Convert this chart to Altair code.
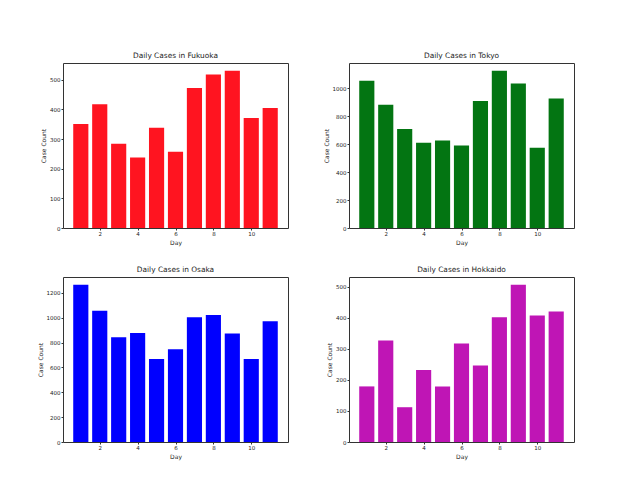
import altair as alt
import pandas as pd

days = list(range(1, 12))
cities = ["Fukuoka", "Tokyo", "Osaka", "Hokkaido"]
fukuoka = [351, 417, 284, 238, 338, 257, 472, 518, 530, 371, 405]
tokyo = [1054, 882, 709, 610, 626, 591, 910, 1125, 1035, 574, 927]
osaka = [1264, 1056, 843, 877, 667, 747, 1003, 1021, 872, 667, 971]
hokkaido = [179, 327, 112, 232, 179, 317, 246, 402, 506, 407, 420]
series = [fukuoka, tokyo, osaka, hokkaido]
colors = ["#ff1420", "#037512", "#0000ff", "#bf15b5"]
x_ticks = [2, 4, 6, 8, 10]
y_ticks = [
    [0, 100, 200, 300, 400, 500],
    [0, 200, 400, 600, 800, 1000],
    [0, 200, 400, 600, 800, 1000, 1200],
    [0, 100, 200, 300, 400, 500],
]

FONT = "DejaVu Sans"
TXT = "#222222"


def panel(name, values, color, ticks):
    df = pd.DataFrame({"day": days, "cases": values})
    ymax = max(values) * 1.05
    return (
        alt.Chart(
            df,
            title=alt.Title(
                f"Daily Cases in {name}", fontSize=7.4, font=FONT,
                fontWeight="normal", color=TXT, offset=4,
            ),
        )
        .mark_bar(color=color)
        .transform_calculate(x0="datum.day - 0.4", x1="datum.day + 0.4")
        .encode(
            x=alt.X(
                "x0:Q",
                scale=alt.Scale(domain=[0.06, 11.94], nice=False, zero=False),
                axis=alt.Axis(values=x_ticks, title="Day", format="d"),
            ),
            x2="x1:Q",
            y=alt.Y(
                "cases:Q",
                scale=alt.Scale(domain=[0, ymax], nice=False),
                axis=alt.Axis(values=ticks, title="Case Count", format="d"),
            ),
            y2=alt.datum(0),
        )
        .properties(width=225, height=165)
    )


panels = [panel(c, s, col, t) for c, s, col, t in zip(cities, series, colors, y_ticks)]

chart = (
    alt.concat(*panels, columns=2, spacing={"row": 19, "column": 33})
    .properties(
        padding={"left": 28, "top": 43, "right": 5, "bottom": 5},
        background="white",
    )
    .configure_view(stroke="#333333", strokeWidth=1)
    .configure_axis(
        grid=False,
        domain=False,
        tickSize=2,
        tickColor="#333333",
        labelFont=FONT,
        labelFontSize=5.5,
        labelColor=TXT,
        labelPadding=1,
        titleFont=FONT,
        titleFontSize=6,
        titleFontWeight="normal",
        titleColor=TXT,
        titlePadding=3,
    )
)

chart.save("out.html", embed_options={"renderer": "svg", "actions": False})
